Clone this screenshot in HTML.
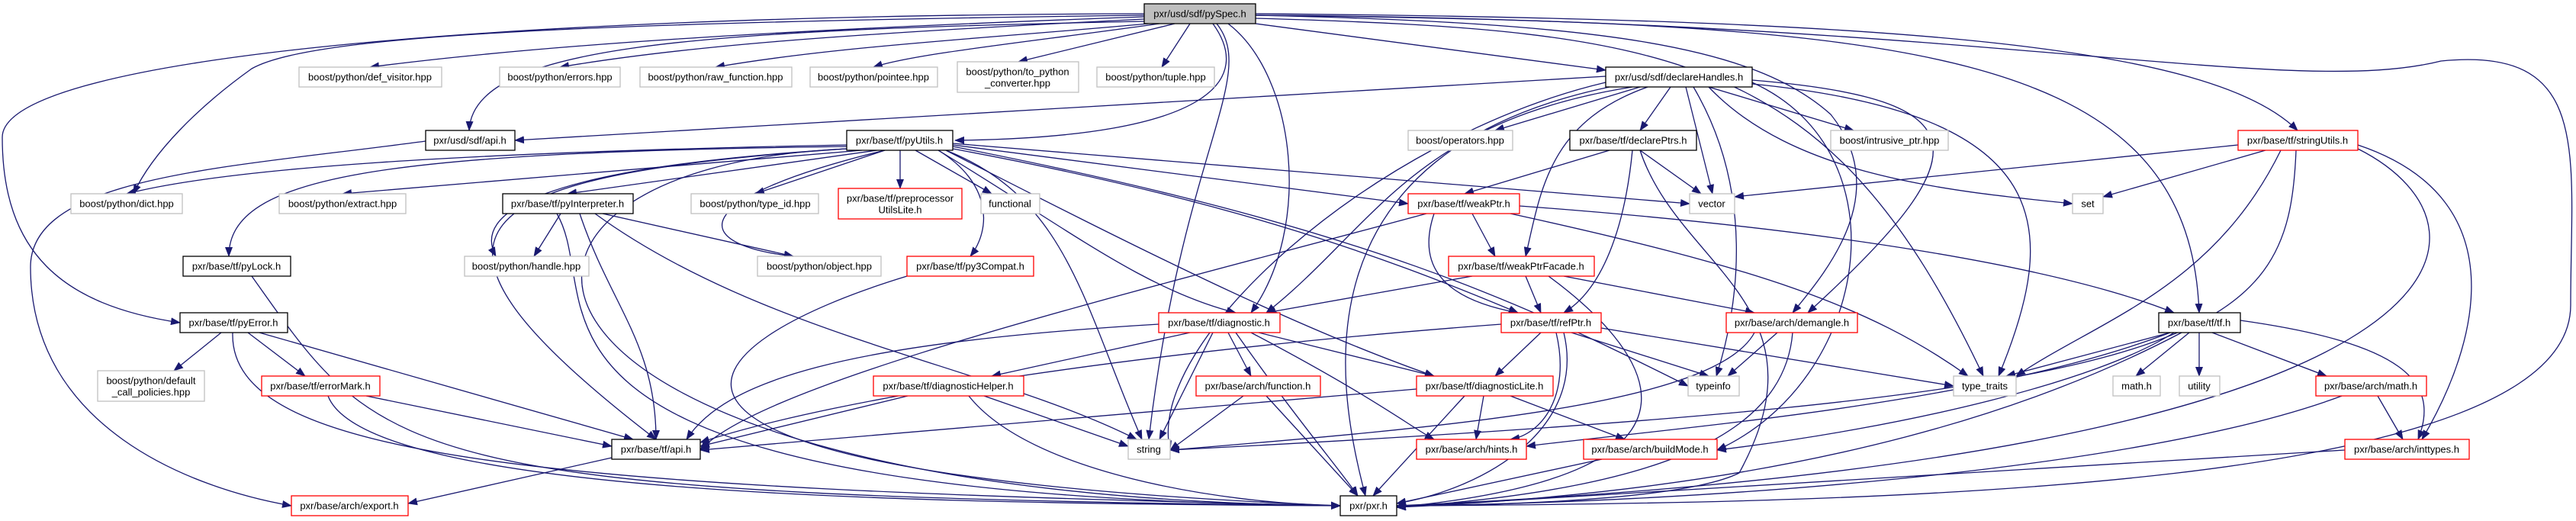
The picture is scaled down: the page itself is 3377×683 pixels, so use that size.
<!DOCTYPE html>
<html><head><meta charset="utf-8"><style>
html,body{margin:0;padding:0;background:#fff;}
svg{display:block;}
text{font-family:"Liberation Sans",sans-serif;font-size:13px;fill:#000;text-anchor:middle;dominant-baseline:central;}
.e{fill:none;stroke:#191970;stroke-width:1.3;marker-end:url(#a);}
</style></head><body>
<svg width="3377" height="683" viewBox="0 0 3377 683" xmlns="http://www.w3.org/2000/svg">
<defs><marker id="a" markerUnits="userSpaceOnUse" markerWidth="13" markerHeight="10" refX="12" refY="5" orient="auto"><path d="M0,0 L13,5 L0,10 z" fill="#191970"/></marker></defs>
<g>
<path class="e" d="M1500 22 C1000 40,700 60,485 88"/>
<path class="e" d="M1500 25 C1100 45,900 60,734 88"/>
<path class="e" d="M1505 31 C1300 50,1100 60,938 88"/>
<path class="e" d="M1520 31 C1350 55,1200 70,1145 88"/>
<path class="e" d="M1540 31 L1335 81"/>
<path class="e" d="M1560 31 L1523 88"/>
<path class="e" d="M1500 28 C900 40,620 60,615 171"/>
<path class="e" d="M1590 31 C1640 100,1600 180,1252 184"/>
<path class="e" d="M1500 20 C700 30,400 50,330 90 C260 140,200 200,175 254"/>
<path class="e" d="M1500 18 C600 20,3 80,3 180 C3 330,80 400,236 423"/>
<path class="e" d="M1646 31 L2105 92"/>
<path class="e" d="M1595 31 C1650 100,1550 200,1506 576"/>
<path class="e" d="M1610 31 C1700 100,1720 300,1640 410"/>
<path class="e" d="M1646 20 C2100 30,2300 60,2400 150 C2480 250,2400 350,2350 410"/>
<path class="e" d="M1646 18 C2500 25,2900 60,3012 171"/>
<path class="e" d="M1646 20 C2500 30,2870 60,2883 410"/>
<path class="e" d="M1646 24 C2200 40,2400 70,2600 493"/>
<path class="e" d="M1646 20 C2600 25,3000 130,3200 80 C3400 60,3370 200,3370 400 C3370 640,2500 660,1831 663"/>
<path class="e" d="M1110 190 C600 200,300 220,166 254"/>
<path class="e" d="M1130 197 L449 254"/>
<path class="e" d="M1150 197 L744 254"/>
<path class="e" d="M1160 197 L990 254"/>
<path class="e" d="M1180 197 L1180 247"/>
<path class="e" d="M1200 197 L1300 254"/>
<path class="e" d="M1110 192 C500 200,300 230,300 336"/>
<path class="e" d="M1110 195 C700 220,620 280,650 336"/>
<path class="e" d="M1160 197 C900 260,900 320,1040 336"/>
<path class="e" d="M1230 197 C1300 240,1300 300,1272 336"/>
<path class="e" d="M1110 195 C600 230,500 300,860 576"/>
<path class="e" d="M1240 197 C1400 260,1420 400,1497 576"/>
<path class="e" d="M1110 195 C550 220,600 650,1757 663"/>
<path class="e" d="M1249 190 L1846 267"/>
<path class="e" d="M1249 188 L2215 267"/>
<path class="e" d="M1249 195 C1600 260,1800 330,1990 410"/>
<path class="e" d="M1230 197 C1400 300,1500 380,1620 410"/>
<path class="e" d="M1240 197 C1500 330,1700 430,1880 493"/>
<path class="e" d="M1249 192 C1800 300,2000 400,2213 506"/>
<path class="e" d="M558 185 C300 220,40 230,40 350 C40 560,250 640,382 663"/>
<path class="e" d="M735 280 L700 336"/>
<path class="e" d="M790 280 L1040 336"/>
<path class="e" d="M760 280 C800 400,860 450,860 576"/>
<path class="e" d="M780 280 C1000 440,1300 480,1490 576"/>
<path class="e" d="M730 280 C800 400,600 650,1757 663"/>
<path class="e" d="M330 362 C500 600,500 650,1757 663"/>
<path class="e" d="M1189 362 C900 450,700 620,1757 663"/>
<path class="e" d="M290 436 L228 486"/>
<path class="e" d="M325 436 L400 493"/>
<path class="e" d="M340 436 L830 576"/>
<path class="e" d="M305 436 C300 600,700 640,1757 663"/>
<path class="e" d="M480 519 L802 585"/>
<path class="e" d="M430 519 C480 650,1200 660,1757 663"/>
<path class="e" d="M802 600 L535 660"/>
<path class="e" d="M1560 436 L1300 493"/>
<path class="e" d="M1610 436 L1640 493"/>
<path class="e" d="M1519 425 C1100 450,950 500,900 576"/>
<path class="e" d="M1590 436 L1520 576"/>
<path class="e" d="M1650 436 L1880 493"/>
<path class="e" d="M1640 436 C1800 520,1850 560,1880 576"/>
<path class="e" d="M1620 436 C1700 550,1760 620,1780 650"/>
<path class="e" d="M1190 519 L918 585"/>
<path class="e" d="M1290 519 L1479 585"/>
<path class="e" d="M1270 519 C1350 620,1600 660,1757 663"/>
<path class="e" d="M1630 519 L1534 590"/>
<path class="e" d="M1660 519 L1780 650"/>
<path class="e" d="M1930 280 L1960 336"/>
<path class="e" d="M1880 280 C1860 340,1880 390,1990 410"/>
<path class="e" d="M1980 280 C2300 350,2450 400,2580 493"/>
<path class="e" d="M1992 270 C2400 300,2700 350,2850 410"/>
<path class="e" d="M1870 280 C1500 380,1000 500,918 590"/>
<path class="e" d="M2000 362 L2020 410"/>
<path class="e" d="M2050 362 L2300 410"/>
<path class="e" d="M1930 362 L1660 410"/>
<path class="e" d="M2030 362 C2150 450,2300 620,1831 665"/>
<path class="e" d="M2020 436 L1960 493"/>
<path class="e" d="M2040 436 C2060 520,2020 570,1980 576"/>
<path class="e" d="M2060 436 L2240 493"/>
<path class="e" d="M2099 430 L2561 506"/>
<path class="e" d="M1968 425 C1500 460,1100 520,918 580"/>
<path class="e" d="M2050 436 C2080 560,1950 640,1831 660"/>
<path class="e" d="M2330 436 L2265 493"/>
<path class="e" d="M2300 436 C2250 530,1900 560,1534 590"/>
<path class="e" d="M2350 436 C2340 560,2200 640,1831 665"/>
<path class="e" d="M1857 510 L918 590"/>
<path class="e" d="M1945 519 L1935 576"/>
<path class="e" d="M1980 519 L2130 576"/>
<path class="e" d="M1920 519 L1800 650"/>
<path class="e" d="M2100 602 L1831 660"/>
<path class="e" d="M2150 114 L1960 171"/>
<path class="e" d="M2190 114 L2150 171"/>
<path class="e" d="M2240 114 L2430 171"/>
<path class="e" d="M2210 114 L2245 254"/>
<path class="e" d="M2240 114 C2350 230,2550 250,2717 267"/>
<path class="e" d="M2105 100 L675 184"/>
<path class="e" d="M2160 114 C2030 160,2020 250,2000 336"/>
<path class="e" d="M2140 114 C1850 160,1800 300,1660 410"/>
<path class="e" d="M2297 105 C2600 130,2600 200,2370 410"/>
<path class="e" d="M2297 110 C2700 150,2700 300,2620 493"/>
<path class="e" d="M2220 114 C2300 250,2280 400,2250 493"/>
<path class="e" d="M2297 108 C2500 200,2450 500,2251 590"/>
<path class="e" d="M2110 114 C1700 200,1750 500,1790 650"/>
<path class="e" d="M2105 108 C1800 180,1500 450,1534 590"/>
<path class="e" d="M2110 197 L1920 254"/>
<path class="e" d="M2150 197 L2230 254"/>
<path class="e" d="M2140 197 C2130 300,2100 380,2050 410"/>
<path class="e" d="M2150 197 C2200 350,2400 400,2280 620 C2200 660,1900 663,1831 663"/>
<path class="e" d="M2934 190 L2274 258"/>
<path class="e" d="M2970 197 L2757 258"/>
<path class="e" d="M2990 197 C2900 380,2750 420,2643 493"/>
<path class="e" d="M3010 197 C3000 450,2900 520,1534 590"/>
<path class="e" d="M3091 190 C3300 260,3250 450,3175 576"/>
<path class="e" d="M3091 195 C3300 300,3270 600,1831 663"/>
<path class="e" d="M2845 436 L2630 493"/>
<path class="e" d="M2870 436 L2800 493"/>
<path class="e" d="M2883 436 L2883 493"/>
<path class="e" d="M2900 436 L3050 493"/>
<path class="e" d="M2937 420 C3150 450,3200 500,3170 576"/>
<path class="e" d="M2850 436 C2750 500,2500 560,2251 590"/>
<path class="e" d="M2860 436 C2700 520,2400 640,1831 665"/>
<path class="e" d="M2845 436 C2600 530,2200 560,2001 585"/>
<path class="e" d="M3117 519 L3150 576"/>
<path class="e" d="M3070 519 C2800 620,2200 660,1831 663"/>
<path class="e" d="M3074 590 L1831 665"/>
</g>
<g stroke-width="1.3">
<rect x="1500" y="5" width="146" height="26" fill="#bfbfbf" stroke="#000"/><text x="1573" y="18">pxr/usd/sdf/pySpec.h</text>
<g fill="#fff" stroke="#c0c0c0">
<rect x="392" y="88" width="187" height="26"/><rect x="655" y="88" width="158" height="26"/><rect x="839" y="88" width="199" height="26"/><rect x="1062" y="88" width="167" height="26"/><rect x="1255" y="81" width="159" height="40"/><rect x="1438" y="88" width="154" height="26"/>
<rect x="93" y="254" width="146" height="26"/><rect x="366" y="254" width="166" height="26"/><rect x="906" y="254" width="167" height="26"/><rect x="1286" y="254" width="77" height="26"/>
<rect x="609" y="336" width="163" height="26"/><rect x="993" y="336" width="162" height="26"/>
<rect x="128" y="486" width="140" height="40"/><rect x="1479" y="576" width="55" height="26"/>
<rect x="1846" y="171" width="137" height="26"/><rect x="2400" y="171" width="154" height="26"/>
<rect x="2215" y="254" width="59" height="26"/><rect x="2717" y="254" width="40" height="26"/>
<rect x="2213" y="493" width="67" height="26"/><rect x="2561" y="493" width="82" height="26"/><rect x="2770" y="493" width="62" height="26"/><rect x="2857" y="493" width="53" height="26"/>
</g>
<g fill="#fff" stroke="#000">
<rect x="558" y="171" width="117" height="26"/><rect x="1110" y="171" width="139" height="26"/><rect x="659" y="254" width="171" height="26"/><rect x="240" y="336" width="141" height="26"/><rect x="236" y="410" width="141" height="26"/><rect x="802" y="576" width="116" height="26"/>
<rect x="2105" y="88" width="192" height="26"/><rect x="2058" y="171" width="166" height="26"/><rect x="2830" y="410" width="107" height="26"/><rect x="1757" y="650" width="74" height="26"/>
</g>
<g fill="#fff" stroke="#ff0000">
<rect x="1099" y="247" width="162" height="40"/><rect x="1189" y="336" width="166" height="26"/><rect x="1519" y="410" width="159" height="26"/><rect x="343" y="493" width="155" height="26"/><rect x="1145" y="493" width="197" height="26"/><rect x="1568" y="493" width="163" height="26"/><rect x="382" y="650" width="153" height="26"/>
<rect x="2934" y="171" width="157" height="26"/><rect x="1846" y="254" width="146" height="26"/><rect x="1899" y="336" width="191" height="26"/><rect x="1968" y="410" width="131" height="26"/><rect x="2263" y="410" width="172" height="26"/><rect x="1857" y="493" width="179" height="26"/><rect x="3036" y="493" width="145" height="26"/><rect x="1857" y="576" width="144" height="26"/><rect x="2076" y="576" width="175" height="26"/><rect x="3074" y="576" width="163" height="26"/>
</g>
</g>
<g>
<text x="485" y="101">boost/python/def_visitor.hpp</text>
<text x="734" y="101">boost/python/errors.hpp</text>
<text x="938" y="101">boost/python/raw_function.hpp</text>
<text x="1145" y="101">boost/python/pointee.hpp</text>
<text x="1334" y="94">boost/python/to_python</text><text x="1334" y="109">_converter.hpp</text>
<text x="1515" y="101">boost/python/tuple.hpp</text>
<text x="616" y="184">pxr/usd/sdf/api.h</text>
<text x="1179" y="184">pxr/base/tf/pyUtils.h</text>
<text x="166" y="267">boost/python/dict.hpp</text>
<text x="449" y="267">boost/python/extract.hpp</text>
<text x="744" y="267">pxr/base/tf/pyInterpreter.h</text>
<text x="990" y="267">boost/python/type_id.hpp</text>
<text x="1180" y="260">pxr/base/tf/preprocessor</text><text x="1180" y="275">UtilsLite.h</text>
<text x="1324" y="267">functional</text>
<text x="310" y="349">pxr/base/tf/pyLock.h</text>
<text x="690" y="349">boost/python/handle.hpp</text>
<text x="1074" y="349">boost/python/object.hpp</text>
<text x="1272" y="349">pxr/base/tf/py3Compat.h</text>
<text x="306" y="423">pxr/base/tf/pyError.h</text>
<text x="1598" y="423">pxr/base/tf/diagnostic.h</text>
<text x="198" y="499">boost/python/default</text><text x="198" y="514">_call_policies.hpp</text>
<text x="420" y="506">pxr/base/tf/errorMark.h</text>
<text x="1243" y="506">pxr/base/tf/diagnosticHelper.h</text>
<text x="1649" y="506">pxr/base/arch/function.h</text>
<text x="860" y="589">pxr/base/tf/api.h</text>
<text x="1506" y="589">string</text>
<text x="458" y="663">pxr/base/arch/export.h</text>
<text x="2201" y="101">pxr/usd/sdf/declareHandles.h</text>
<text x="1914" y="184">boost/operators.hpp</text>
<text x="2141" y="184">pxr/base/tf/declarePtrs.h</text>
<text x="2477" y="184">boost/intrusive_ptr.hpp</text>
<text x="3012" y="184">pxr/base/tf/stringUtils.h</text>
<text x="1919" y="267">pxr/base/tf/weakPtr.h</text>
<text x="2244" y="267">vector</text>
<text x="2737" y="267">set</text>
<text x="1994" y="349">pxr/base/tf/weakPtrFacade.h</text>
<text x="2033" y="423">pxr/base/tf/refPtr.h</text>
<text x="2349" y="423">pxr/base/arch/demangle.h</text>
<text x="2883" y="423">pxr/base/tf/tf.h</text>
<text x="1946" y="506">pxr/base/tf/diagnosticLite.h</text>
<text x="2246" y="506">typeinfo</text>
<text x="2602" y="506">type_traits</text>
<text x="2801" y="506">math.h</text>
<text x="2883" y="506">utility</text>
<text x="3108" y="506">pxr/base/arch/math.h</text>
<text x="1929" y="589">pxr/base/arch/hints.h</text>
<text x="2163" y="589">pxr/base/arch/buildMode.h</text>
<text x="3155" y="589">pxr/base/arch/inttypes.h</text>
<text x="1794" y="663">pxr/pxr.h</text>
</g>
</svg>
</body></html>
